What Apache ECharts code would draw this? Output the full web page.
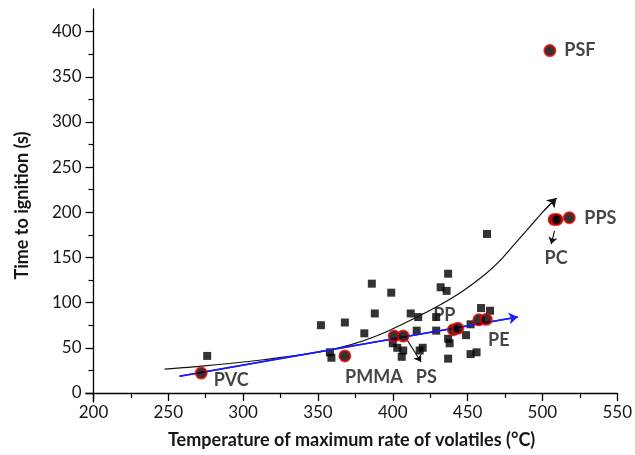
<!DOCTYPE html>
<html>
<head>
<meta charset="utf-8">
<script src="https://cdn.jsdelivr.net/npm/echarts@6/dist/echarts.min.js"></script>
<style>
  html, body { margin: 0; padding: 0; background: #fff; }
  #chart { width: 635px; height: 455px; }
</style>
</head>
<body>
<div id="chart"></div>
<script>
// Other polymers (black squares): temperature of maximum volatiles rate (°C) vs time to ignition (s)
const otherTemp = [276, 352, 358, 359, 368, 381, 386, 388, 399, 412, 417, 416, 429, 400, 403, 407, 406, 420, 418,
                   463, 437, 432, 436, 429, 459, 465, 449, 437, 438, 437, 452, 456, 452];
const otherTti  = [41, 75, 45, 39, 78, 66, 121, 88, 111, 88, 84, 69, 69, 55, 50, 47, 40, 50, 47,
                   176, 132, 117, 113, 84, 94, 91, 64, 60, 55, 38, 43, 45, 76];

// Named polymers (red-rimmed circles); an empty name is a second measurement of the previous polymer
const polymerNames = ['PVC', 'PMMA', 'PS', '', 'PP', '', 'PE', '', 'PC', '', 'PPS', 'PSF'];
const polymerTemp  = [272, 368, 401, 407, 440.5, 443.5, 457.5, 462.5, 507.8, 509.8, 518, 505];
const polymerTti   = [22, 41, 63, 63, 70, 71.5, 81, 81.5, 192, 192, 194, 379];

// Linear trend (blue) end points
const fitTemp = [257.5, 483.6];
const fitTti  = [18.5, 84.2];

// Exponential-like trend (black) points
const curveTemp = [247.5, 274.2, 310.9, 351.0, 371.1, 391.1, 411.2, 431.2, 446.6, 462.6, 471.3, 481.4, 491.4, 501.4, 509.4];
const curveTti  = [26.3, 29.9, 36.2, 45.4, 52.9, 64.5, 80.0, 97.2, 112.7, 132.6, 145.9, 164.8, 183.6, 202.4, 215.7];

// Annotation arrows linking PS and PC markers to their names
const arrowFromTemp = [409.0, 508.1];
const arrowFromTti  = [60.3, 179.2];
const arrowToTemp   = [418.9, 505.9];
const arrowToTti    = [34.3, 164.8];

// Axis ticks
const xTicks = [200, 250, 300, 350, 400, 450, 500, 550];
const xMinor = [225, 275, 325, 375, 425, 475, 525];
const yTicks = [0, 50, 100, 150, 200, 250, 300, 350, 400];
const yMinor = [25, 75, 125, 175, 225, 275, 325, 375];

const X_MIN = 195, X_MAX = 550, Y_MIN = -10, Y_MAX = 425;
const W = 635, H = 455;
const G = { left: 86, right: 17, top: 9, bottom: 53 };
const gridW = W - G.left - G.right, gridH = H - G.top - G.bottom;
// shift the axis lines so they cross at (200, 0), leaving short stubs past the crossing
const xShift = -(0 - Y_MIN) * gridH / (Y_MAX - Y_MIN);
const yShift = -(200 - X_MIN) * gridW / (X_MAX - X_MIN);

const TXT = '#161616';
const FONT = 'Lato';

// label placement for each named polymer (offset from its marker, px)
const labelOffsets = {
  PVC: [30, 7], PMMA: [29, 21], PS: [32, 41], PP: [-9, -15], PE: [20, 20],
  PC: [2, 39], PPS: [31, 0], PSF: [30, 0]
};

const polymerData = polymerNames.map((n, i) => {
  const item = { name: n, value: [polymerTemp[i], polymerTti[i]] };
  if (n) {
    item.label = { show: true, position: 'inside', offset: labelOffsets[n], formatter: n };
  }
  return item;
});

const axisBase = (min, max, shift) => ({
  type: 'value', min: min, max: max, offset: shift,
  splitLine: { show: false },
  axisLine: { onZero: false, lineStyle: { color: '#000', width: 1.3 } }
});

const chart = echarts.init(document.getElementById('chart'), null, { renderer: 'canvas' });
chart.setOption({
  animation: false,
  backgroundColor: '#fff',
  grid: { left: G.left, right: G.right, top: G.top, bottom: G.bottom, containLabel: false },
  xAxis: [
    Object.assign(axisBase(X_MIN, X_MAX, xShift), {
      position: 'bottom',
      axisTick: { customValues: xTicks, length: 8, lineStyle: { color: '#000', width: 1.3 } },
      axisLabel: { customValues: xTicks, margin: 11, color: TXT, fontFamily: FONT, fontSize: 17 },
      name: 'Temperature of maximum rate of volatiles (°C)',
      nameLocation: 'middle', nameGap: 38,
      nameTextStyle: { color: TXT, fontFamily: FONT, fontWeight: 'bold', fontSize: 18 }
    }),
    Object.assign(axisBase(X_MIN, X_MAX, xShift), {
      position: 'bottom',
      axisLine: { show: false, onZero: false },
      axisTick: { customValues: xMinor, length: 5, lineStyle: { color: '#000', width: 1.2 } },
      axisLabel: { show: false }
    })
  ],
  yAxis: [
    Object.assign(axisBase(Y_MIN, Y_MAX, yShift), {
      position: 'left',
      axisTick: { customValues: yTicks, length: 8, lineStyle: { color: '#000', width: 1.3 } },
      axisLabel: { customValues: yTicks, margin: 12, color: TXT, fontFamily: FONT, fontSize: 17 },
      name: 'Time to ignition (s)',
      nameLocation: 'middle', nameGap: 62, nameRotate: 90,
      nameTextStyle: { color: TXT, fontFamily: FONT, fontWeight: 'bold', fontSize: 18 }
    }),
    Object.assign(axisBase(Y_MIN, Y_MAX, yShift), {
      position: 'left',
      axisLine: { show: false, onZero: false },
      axisTick: { customValues: yMinor, length: 5, lineStyle: { color: '#000', width: 1.2 } },
      axisLabel: { show: false }
    })
  ],
  series: [
    {
      name: 'Other polymers', type: 'scatter', xAxisIndex: 0, yAxisIndex: 0,
      symbol: 'rect', symbolSize: 8, z: 2,
      itemStyle: { color: '#000' },
      data: otherTemp.map((t, i) => [t, otherTti[i]])
    },
    {
      name: 'Trend', type: 'line', xAxisIndex: 0, yAxisIndex: 0, z: 3,
      smooth: 0.3, showSymbol: false, silent: true,
      lineStyle: { color: '#111', width: 1.2 },
      data: curveTemp.map((t, i) => [t, curveTti[i]]),
      markLine: {
        silent: true, symbol: ['none', 'arrow'], symbolSize: 9,
        label: { show: false },
        lineStyle: { color: '#111', width: 1.2, type: 'solid' },
        data: [[
          { coord: [curveTemp[curveTemp.length - 2], curveTti[curveTti.length - 2]] },
          { coord: [curveTemp[curveTemp.length - 1], curveTti[curveTti.length - 1]] }
        ]]
      }
    },
    {
      name: 'Linear trend', type: 'line', xAxisIndex: 0, yAxisIndex: 0, z: 3,
      showSymbol: false, silent: true,
      lineStyle: { color: '#1a1aff', width: 1.5 },
      data: fitTemp.map((t, i) => [t, fitTti[i]]),
      markLine: {
        silent: true, symbol: ['none', 'arrow'], symbolSize: 9,
        label: { show: false },
        lineStyle: { color: '#1a1aff', width: 1.5, type: 'solid' },
        data: [[
          { coord: [fitTemp[0], fitTti[0]] },
          { coord: [fitTemp[1], fitTti[1]] }
        ]]
      }
    },
    {
      name: 'Named polymers', type: 'scatter', xAxisIndex: 0, yAxisIndex: 0, z: 5,
      symbol: 'circle', symbolSize: 11,
      itemStyle: { color: '#000', borderColor: '#e60000', borderWidth: 2 },
      label: { color: TXT, fontFamily: FONT, fontWeight: 'bold', fontSize: 18 },
      data: polymerData,
      markLine: {
        silent: true, symbol: ['none', 'arrow'], symbolSize: 7,
        label: { show: false },
        lineStyle: { color: '#111', width: 1.2, type: 'solid' },
        data: arrowFromTemp.map((t, i) => [
          { coord: [t, arrowFromTti[i]] },
          { coord: [arrowToTemp[i], arrowToTti[i]] }
        ])
      }
    }
  ]
});
</script>
</body>
</html>
